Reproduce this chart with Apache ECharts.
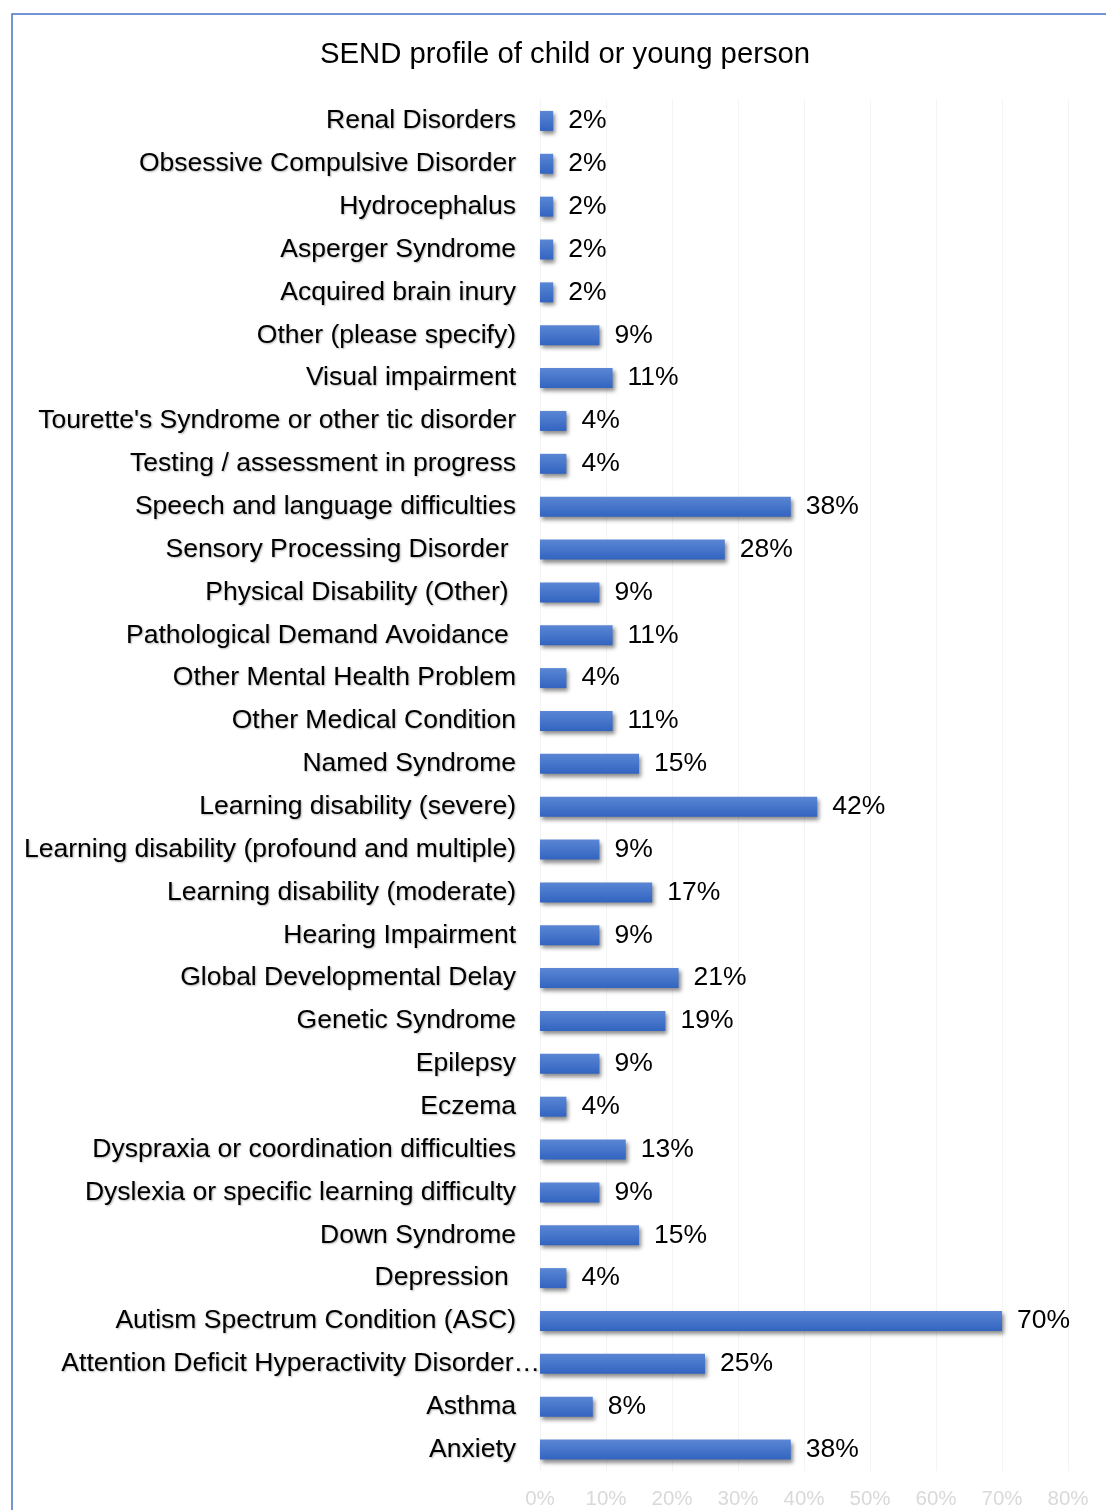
<!DOCTYPE html>
<html>
<head>
<meta charset="utf-8">
<style>
  html, body { margin: 0; padding: 0; background: #ffffff; }
  #chart { width: 1106px; height: 1510px; }
</style>
<script src="https://cdn.jsdelivr.net/npm/echarts@6/dist/echarts.min.js"></script>
</head>
<body>
<div id="chart"></div>
<script>
// Categories listed top to bottom
const categories = [
  "Renal Disorders",
  "Obsessive Compulsive Disorder",
  "Hydrocephalus",
  "Asperger Syndrome",
  "Acquired brain inury",
  "Other (please specify)",
  "Visual impairment",
  "Tourette's Syndrome or other tic disorder",
  "Testing / assessment in progress",
  "Speech and language difficulties",
  "Sensory Processing Disorder ",
  "Physical Disability (Other) ",
  "Pathological Demand Avoidance ",
  "Other Mental Health Problem",
  "Other Medical Condition",
  "Named Syndrome",
  "Learning disability (severe)",
  "Learning disability (profound and multiple)",
  "Learning disability (moderate)",
  "Hearing Impairment",
  "Global Developmental Delay",
  "Genetic Syndrome",
  "Epilepsy",
  "Eczema",
  "Dyspraxia or coordination difficulties",
  "Dyslexia or specific learning difficulty",
  "Down Syndrome",
  "Depression ",
  "Autism Spectrum Condition (ASC)",
  "Attention Deficit Hyperactivity Disorder\u2026",
  "Asthma",
  "Anxiety"
];

// Share of respondents (%) per category, same order
const percentages = [
  2, 2, 2, 2, 2, 9, 11, 4, 4, 38,
  28, 9, 11, 4, 11, 15, 42, 9, 17, 9,
  21, 19, 9, 4, 13, 9, 15, 4, 70, 25,
  8, 38
];

// Value axis ticks
const axisMax = 80;
const axisStep = 10;

const FONT = '"Liberation Sans", Arial, sans-serif';

const labelShadow = {
  textShadowColor: 'rgba(0,0,0,0.3)',
  textShadowBlur: 2,
  textShadowOffsetX: 1,
  textShadowOffsetY: 1
};

const chart = echarts.init(document.getElementById('chart'), null, { renderer: 'canvas' });

chart.setOption({
  backgroundColor: '#ffffff',
  animation: false,
  title: {
    text: 'SEND profile of child or young person',
    left: 315,
    top: 35,
    textStyle: { fontFamily: FONT, fontSize: 29.3, fontWeight: 'normal', color: '#000000' }
  },
  graphic: [{
    type: 'rect',
    shape: { x: 12, y: 14, width: 1200, height: 1600 },
    style: { fill: 'none', stroke: '#4472c4', lineWidth: 1.5 },
    z: 0
  }],
  grid: { left: 540, top: 99.5, width: 528, height: 1374, containLabel: false },
  xAxis: {
    type: 'value',
    min: 0,
    max: axisMax,
    interval: axisStep,
    axisLine: { show: false },
    axisTick: { show: false },
    splitLine: { show: true, lineStyle: { color: '#f4f4f4', width: 1 } },
    axisLabel: {
      formatter: v => v + '%',
      fontFamily: FONT,
      fontSize: 20.5,
      color: '#d9d9d9',
      margin: 18
    }
  },
  yAxis: {
    type: 'category',
    data: categories,
    inverse: true,
    axisLine: { show: false },
    axisTick: { show: false },
    axisLabel: {
      fontFamily: FONT,
      fontSize: 26.5,
      color: '#000000',
      margin: 24,
      ...labelShadow,
      // the clipped long label runs up to the bar edge
      formatter: v => v.endsWith('\u2026') ? '{long|' + v + '}' : v,
      rich: {
        long: {
          fontFamily: FONT,
          fontSize: 26.5,
          color: '#000000',
          padding: [0, -24, 0, 0],
          ...labelShadow
        }
      }
    }
  },
  series: [{
    type: 'bar',
    data: percentages,
    barWidth: 20,
    itemStyle: {
      color: new echarts.graphic.LinearGradient(0, 0, 0, 1, [
        { offset: 0, color: '#5a86d4' },
        { offset: 1, color: '#3264c0' }
      ]),
      shadowColor: 'rgba(0,0,0,0.45)',
      shadowBlur: 4,
      shadowOffsetX: 2,
      shadowOffsetY: 3
    },
    label: {
      show: true,
      position: 'right',
      distance: 15,
      formatter: p => p.value + '%',
      fontFamily: FONT,
      fontSize: 26.5,
      color: '#000000'
    }
  }]
});
</script>
</body>
</html>
